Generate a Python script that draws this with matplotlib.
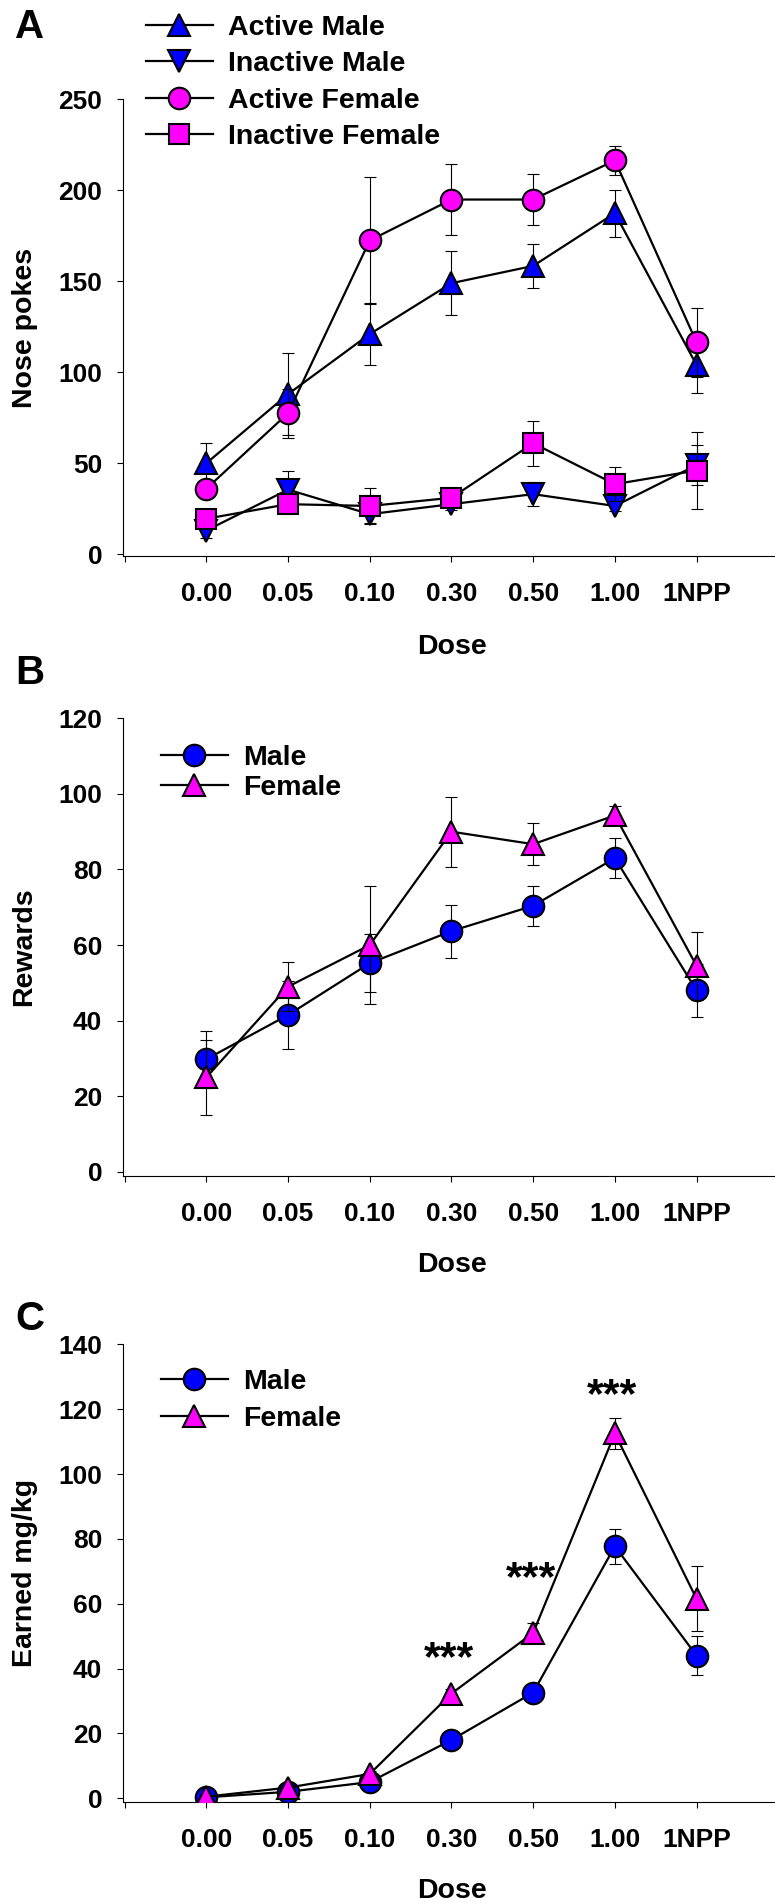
import matplotlib
matplotlib.use("Agg")
import matplotlib.pyplot as plt

plt.rcParams['font.family'] = ['Liberation Sans', 'DejaVu Sans']
plt.rcParams['font.weight'] = 'bold'

# Dose groups on the x axis
doses = ['0.00', '0.05', '0.10', '0.30', '0.50', '1.00', '1NPP']

# Panel A - nose pokes (mean, SEM)
active_male = [50, 88, 121, 149, 158.5, 187.5, 104]
active_male_err = [11, 22.5, 17, 17.5, 12, 13, 15.5]
inactive_male = [13, 35.5, 22, 27.5, 33, 26.5, 49]
inactive_male_err = [4, 10.5, 5, 3, 6.5, 3, 11]
active_female = [36, 77.5, 172.5, 195, 195, 216.5, 116.5]
active_female_err = [5, 13.5, 35, 19.5, 14, 8, 19]
inactive_female = [19.5, 27.5, 26.5, 31, 61, 38.5, 46]
inactive_female_err = [4, 4, 10, 3, 12.5, 9.5, 21]

# Panel B - rewards
rew_male = [29.8, 41.5, 55.2, 63.7, 70.4, 83, 48]
rew_male_err = [7.5, 9, 7.6, 7, 5.3, 5.3, 7]
rew_female = [25, 49, 60, 90, 86.7, 94.3, 54.5]
rew_female_err = [10, 6.5, 15.5, 9.3, 5.5, 2.5, 9]

# Panel C - earned mg/kg
mg_male = [0.3, 2, 5, 18, 32.6, 77.7, 44]
mg_male_err = [0.3, 0.5, 1, 1.2, 1.5, 5.3, 6.1]
mg_female = [0.5, 3.3, 7.5, 32.3, 51, 112.5, 61.5]
mg_female_err = [0.3, 0.6, 1, 1.5, 3.2, 4.7, 10]
star_dose_idx = [3, 4, 5]
star_y = [43, 67.5, 124]

BLUE = '#0000FF'
MAGENTA = '#FF00FF'
x = list(range(len(doses)))

fig = plt.figure(figsize=(7.75, 19.04), dpi=100)
H = 1904.0
W = 775.0


def make_axes(top_px, bottom_px):
    return fig.add_axes([123 / W, (H - bottom_px) / H, (W - 123) / W, (bottom_px - top_px) / H])


def series(ax, y, err, marker, color, ms, z):
    ax.errorbar(x, y, yerr=err, fmt='none', ecolor='black', elinewidth=0.8,
                capsize=4.5, capthick=0.8, zorder=z)
    line, = ax.plot(x, y, color='black', lw=1.6, marker=marker, ms=ms,
                    mfc=color, mec='black', mew=1.5, zorder=z + 0.5)
    return line


def style(ax, ylim, yticks, ylabel, xlabel_y):
    ax.set_xlim(-1.02, 6.96)
    ax.set_ylim(*ylim)
    ax.set_yticks(yticks)
    ax.set_xticks(range(-1, 7))
    ax.set_xticklabels([''] + doses)
    for s in ['top', 'right']:
        ax.spines[s].set_visible(False)
    for s in ['left', 'bottom']:
        ax.spines[s].set_linewidth(0.8)
    ax.tick_params(axis='both', direction='out', length=4, width=0.8, labelsize=19)
    ax.tick_params(axis='x', pad=15)
    ax.tick_params(axis='y', pad=11)
    ax.set_ylabel(ylabel, fontsize=20.5, fontweight='bold', va='center')
    ax.yaxis.set_label_coords(-0.151, 0.5)
    ax.set_xlabel('Dose', fontsize=20.5, fontweight='bold', va='center')
    ax.xaxis.set_label_coords(0.5046, xlabel_y)


def legend(ax, handles, labels, x_px, top_px, spacing, hlen):
    ax.legend(handles, labels, loc='upper left',
              bbox_to_anchor=(x_px / W, 1 - top_px / H), bbox_transform=fig.transFigure,
              frameon=False, fontsize=20.5, handlelength=hlen, handletextpad=0.55,
              labelspacing=spacing, borderpad=0, borderaxespad=0)


# Panel A
axA = make_axes(99.5, 556)
hA = [
    series(axA, active_male, active_male_err, '^', BLUE, 16, 2),
    series(axA, inactive_male, inactive_male_err, 'v', BLUE, 16, 3),
    series(axA, active_female, active_female_err, 'o', MAGENTA, 15.5, 4),
    series(axA, inactive_female, inactive_female_err, 's', MAGENTA, 14.5, 5),
]
style(axA, (-1, 250), range(0, 251, 50), 'Nose pokes', -0.2)
legend(axA, hA, ['Active Male', 'Inactive Male', 'Active Female', 'Inactive Female'],
       146, 15, 0.36, 2.34)

# Panel B
axB = make_axes(718.3, 1176)
hB = [
    series(axB, rew_male, rew_male_err, 'o', BLUE, 15.5, 2),
    series(axB, rew_female, rew_female_err, '^', MAGENTA, 16, 3),
]
style(axB, (-1.1, 120), range(0, 121, 20), 'Rewards', -0.195)
legend(axB, hB, ['Male', 'Female'], 161, 745, 0.14, 2.35)

# Panel C
axC = make_axes(1344.3, 1801.7)
hC = [
    series(axC, mg_male, mg_male_err, 'o', BLUE, 15.5, 2),
    series(axC, mg_female, mg_female_err, '^', MAGENTA, 16, 3),
]
style(axC, (-1.05, 140), range(0, 141, 20), 'Earned mg/kg', -0.196)
legend(axC, hC, ['Male', 'Female'], 161, 1369, 0.37, 2.35)
for i, yv in zip(star_dose_idx, star_y):
    axC.text(i - 0.03, yv, '***', fontsize=31, fontweight='bold', ha='center', va='center')

# Panel letters
for letter, ypx in [('A', 27.5), ('B', 673), ('C', 1319)]:
    fig.text(15 / W, 1 - ypx / H, letter, fontsize=29, fontweight='bold', ha='left', va='center')

fig.savefig('out.png', dpi=100)
